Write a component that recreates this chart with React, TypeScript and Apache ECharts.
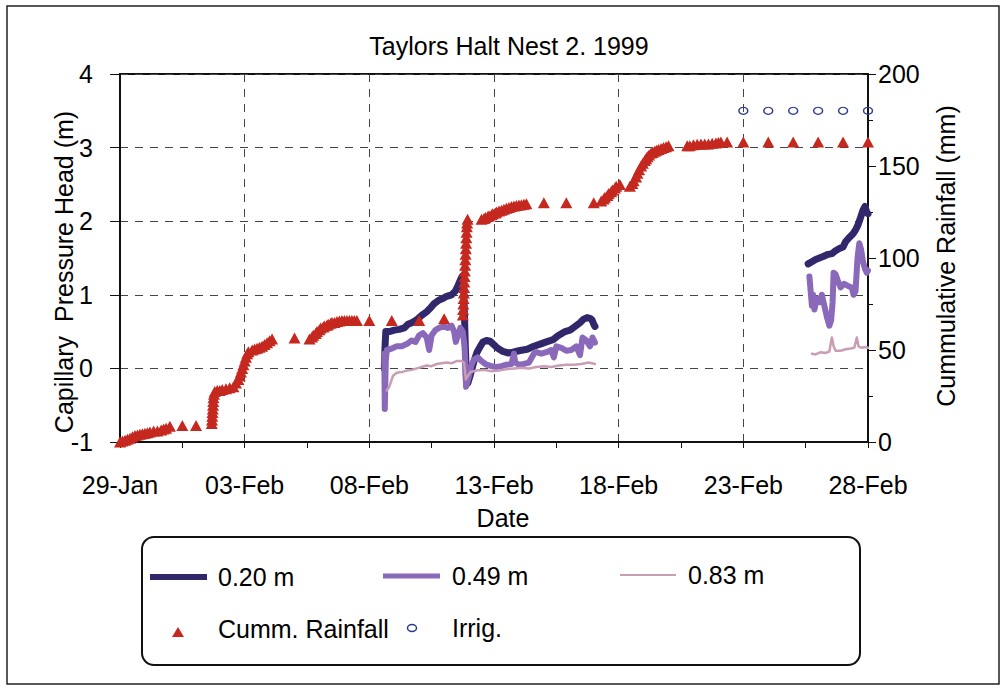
import React, { useEffect, useRef } from "react";
import * as echarts from "echarts";

// ---------- data (x = days since 29-Jan-1999) ----------
const title = "Taylors Halt Nest 2. 1999";
const xTickLabels = ["29-Jan", "03-Feb", "08-Feb", "13-Feb", "18-Feb", "23-Feb", "28-Feb"];

const head020A: number[][] = [
  [10.6, 0.0], [10.63, 0.3], [10.66, 0.5], [10.8, 0.5], [11.0, 0.52], [11.2, 0.53], [11.4, 0.55], [11.55, 0.6],
  [11.7, 0.62], [11.9, 0.66], [12.1, 0.72], [12.3, 0.77], [12.45, 0.82], [12.6, 0.88], [12.8, 0.93], [12.95, 0.95],
  [13.1, 0.98], [13.3, 1.0], [13.45, 1.05], [13.55, 1.12], [13.65, 1.2], [13.72, 1.25], [13.78, 1.15], [13.85, 0.3],
  [13.9, -0.2], [13.95, -0.2], [14.04, -0.1], [14.2, 0.1], [14.32, 0.22], [14.45, 0.3], [14.56, 0.36], [14.7, 0.38],
  [14.84, 0.37], [15.0, 0.32], [15.12, 0.28], [15.36, 0.23], [15.56, 0.21], [15.76, 0.22], [16.0, 0.24], [16.33, 0.26],
  [16.6, 0.3], [16.85, 0.33], [17.1, 0.36], [17.37, 0.39], [17.55, 0.44], [17.65, 0.46], [17.85, 0.5], [18.05, 0.52],
  [18.25, 0.57], [18.45, 0.62], [18.6, 0.67], [18.73, 0.69], [18.85, 0.68], [18.93, 0.66], [19.0, 0.6], [19.05, 0.57],
];
const head020B: number[][] = [
  [27.6, 1.42], [27.75, 1.45], [27.9, 1.48], [28.05, 1.5], [28.2, 1.52], [28.4, 1.55], [28.56, 1.56], [28.7, 1.6],
  [28.85, 1.63], [29.0, 1.65], [29.1, 1.72], [29.25, 1.78], [29.4, 1.83], [29.5, 1.88], [29.6, 1.95], [29.7, 2.05],
  [29.8, 2.15], [29.88, 2.2], [29.95, 2.12], [30.0, 2.1],
];
const head049A: number[][] = [
  [10.6, 0.2], [10.62, -0.55], [10.66, 0.1], [10.7, 0.25], [10.9, 0.27], [11.1, 0.3], [11.3, 0.3], [11.5, 0.33],
  [11.7, 0.38], [11.85, 0.36], [12.0, 0.45], [12.15, 0.48], [12.3, 0.42], [12.4, 0.25], [12.5, 0.45], [12.65, 0.52],
  [12.8, 0.55], [13.0, 0.57], [13.15, 0.55], [13.3, 0.58], [13.4, 0.5], [13.47, 0.36], [13.55, 0.45], [13.65, 0.55],
  [13.75, 0.5], [13.82, 0.3], [13.88, -0.25], [13.92, -0.2], [14.0, -0.1], [14.1, 0.05], [14.2, 0.12], [14.35, 0.15],
  [14.5, 0.1], [14.7, 0.05], [14.9, 0.03], [15.1, 0.02], [15.3, 0.03], [15.5, 0.05], [15.7, 0.06], [15.8, 0.2],
  [15.85, 0.08], [16.0, 0.05], [16.2, 0.06], [16.4, 0.08], [16.6, 0.2], [16.7, 0.22], [16.9, 0.2], [17.1, 0.22],
  [17.3, 0.25], [17.4, 0.15], [17.5, 0.3], [17.7, 0.28], [17.9, 0.24], [18.1, 0.25], [18.3, 0.3], [18.45, 0.18],
  [18.55, 0.42], [18.7, 0.38], [18.85, 0.3], [18.95, 0.42], [19.05, 0.35],
];
const head049B: number[][] = [
  [27.65, 1.25], [27.7, 1.05], [27.75, 0.85], [27.8, 1.0], [27.85, 0.8], [27.95, 0.95], [28.05, 0.9], [28.15, 1.0],
  [28.25, 0.85], [28.35, 0.7], [28.45, 0.58], [28.52, 0.65], [28.58, 0.9], [28.62, 1.3], [28.7, 1.28], [28.78, 1.2],
  [28.9, 1.1], [29.05, 1.15], [29.2, 1.12], [29.35, 1.1], [29.42, 1.0], [29.5, 1.05], [29.58, 1.5], [29.65, 1.7],
  [29.72, 1.62], [29.8, 1.45], [29.88, 1.35], [29.95, 1.3], [30.0, 1.33],
];
const head083A: number[][] = [
  [10.7, -0.3], [10.8, -0.25], [10.95, -0.1], [11.1, -0.06], [11.3, -0.05], [11.5, -0.03], [11.7, -0.02], [11.9, 0.0],
  [12.1, 0.02], [12.3, 0.04], [12.5, 0.03], [12.7, 0.06], [12.9, 0.07], [13.1, 0.08], [13.3, 0.07], [13.5, 0.1],
  [13.7, 0.1], [13.8, 0.08], [13.87, -0.15], [13.92, -0.12], [14.05, -0.05], [14.3, -0.03], [14.6, -0.02], [14.9, -0.04],
  [15.2, -0.03], [15.5, -0.01], [15.8, 0.0], [16.1, 0.01], [16.4, 0.0], [16.7, 0.02], [17.0, 0.03], [17.3, 0.02],
  [17.6, 0.04], [17.9, 0.05], [18.2, 0.05], [18.5, 0.06], [18.8, 0.08], [19.05, 0.06],
];
const head083B: number[][] = [
  [27.75, 0.2], [27.9, 0.19], [28.1, 0.22], [28.3, 0.21], [28.45, 0.23], [28.55, 0.42], [28.62, 0.3], [28.7, 0.24],
  [28.9, 0.24], [29.1, 0.26], [29.3, 0.27], [29.45, 0.28], [29.55, 0.42], [29.62, 0.3], [29.75, 0.28], [29.9, 0.29],
  [30.0, 0.28],
];
const cummRainfall: number[][] = [
  [0.0, 0], [0.1, 0.5], [0.2, 1], [0.3, 1.5], [0.4, 2], [0.5, 2.8], [0.6, 3.5], [0.7, 3.8], [0.8, 4.2], [0.9, 4.5],
  [1.0, 4.8], [1.1, 5], [1.2, 5.5], [1.35, 6], [1.5, 6], [1.65, 6.5], [1.75, 7], [1.85, 7.5], [2.0, 8.5], [2.5, 9], [3.05, 9],
  [3.68, 10], [3.69, 12], [3.7, 14], [3.71, 16], [3.72, 18], [3.73, 20], [3.74, 22], [3.75, 24], [3.77, 26], [3.8, 27.5],
  [3.9, 28], [4.0, 28], [4.1, 28.5], [4.25, 29], [4.4, 29.5], [4.55, 30], [4.65, 32], [4.75, 34], [4.8, 36], [4.85, 38],
  [4.9, 40], [4.95, 42], [5.0, 44], [5.05, 46], [5.1, 48], [5.15, 49], [5.3, 50], [5.4, 50.5], [5.5, 51], [5.6, 51.5],
  [5.7, 52], [5.8, 53], [5.9, 54], [6.0, 55], [6.1, 56],
  [7.0, 56.5],
  [7.6, 56], [7.7, 57], [7.75, 58], [7.85, 59], [7.9, 60], [8.0, 61], [8.05, 62], [8.15, 62.5], [8.2, 63], [8.3, 63.5],
  [8.35, 64], [8.45, 64.5], [8.5, 65], [8.6, 65], [8.7, 65.5], [8.8, 65.8], [8.9, 66], [9.0, 66], [9.1, 66], [9.2, 66],
  [9.3, 66], [9.4, 66], [9.5, 66],
  [10.0, 66], [10.9, 66], [12.0, 66], [13.0, 67],
  [13.75, 69], [13.76, 72], [13.77, 75], [13.78, 78], [13.79, 81], [13.8, 84], [13.81, 87], [13.82, 90], [13.83, 93],
  [13.84, 96], [13.85, 99], [13.86, 102], [13.87, 105], [13.88, 108], [13.89, 111], [13.9, 114], [13.91, 117],
  [13.92, 119], [13.94, 121],
  [14.5, 121], [14.6, 121.5], [14.65, 122], [14.75, 122.5], [14.8, 123], [14.9, 123.5], [14.95, 124], [15.05, 124.5],
  [15.1, 125], [15.2, 125.5], [15.3, 126], [15.4, 126.5], [15.5, 127], [15.6, 127.5], [15.7, 128], [15.8, 128.2],
  [15.9, 128.5], [16.0, 128.8], [16.1, 129], [16.2, 129.2], [16.3, 129.5],
  [17.0, 130], [17.9, 130], [19.0, 130],
  [19.3, 131], [19.4, 132], [19.45, 133], [19.55, 134], [19.6, 135], [19.7, 136], [19.75, 137], [19.85, 138],
  [19.9, 139], [20.05, 140],
  [20.45, 139], [20.55, 140.5], [20.6, 142], [20.7, 144], [20.75, 146], [20.82, 148], [20.9, 150], [20.97, 151.5],
  [21.05, 153], [21.1, 154], [21.15, 155], [21.22, 156], [21.3, 157], [21.37, 157.5], [21.45, 158], [21.52, 158.5],
  [21.6, 159], [21.7, 159.5], [21.8, 160], [21.9, 160.5], [22.0, 161],
  [22.75, 161], [22.85, 161], [23.0, 161.5], [23.15, 161.8], [23.3, 162], [23.45, 162], [23.6, 162], [23.75, 162.3],
  [23.9, 162.5], [24.0, 162.8], [24.1, 163], [24.35, 163],
  [25, 163], [26, 163], [27, 163], [28, 163], [29, 163], [30, 163],
];
const irrig: number[][] = [
  [25, 180], [26, 180], [27, 180], [28, 180], [29, 180], [30, 180],
];

const seriesNames = ["0.20 m", "0.49 m", "0.83 m", "Cumm. Rainfall", "Irrig."];

// ---------- style ----------
const FONT = "'Liberation Sans', Arial, Helvetica, sans-serif";
const TXT = "#000";
const C020 = "#31286c";
const C049 = "#8a69bb";
const C083 = "#c99db4";
const CRAIN = "#c5281f";
const CIRR = "#2c3a8c";

export default function App() {
  const ref = useRef<HTMLDivElement>(null);
  useEffect(() => {
    if (!ref.current) return;
    const chart = echarts.init(ref.current, null, { renderer: "svg" });
    const lineSeries = (name: string, data: number[][], color: string, width: number) => ({
      name,
      type: "line",
      data,
      yAxisIndex: 0,
      showSymbol: false,
      symbol: "none",
      lineStyle: { color, width, join: "round", cap: "round" },
      itemStyle: { color },
      z: 3,
    });
    const txt = (text: string, x: number, y: number, extra: any = {}) => ({
      type: "text",
      x,
      y,
      z: 20,
      style: {
        text,
        fontSize: 25,
        fontFamily: FONT,
        fill: TXT,
        align: "left",
        verticalAlign: "middle",
        ...extra,
      },
    });
    chart.setOption({
      animation: false,
      backgroundColor: "#fff",
      title: {
        text: title,
        left: 504,
        textAlign: "center",
        top: 28,
        textStyle: { fontSize: 25, fontWeight: "normal", fontFamily: FONT, color: TXT },
      },
      grid: {
        left: 120,
        right: 140,
        top: 74,
        bottom: 246,
        show: true,
        borderColor: "#111",
        borderWidth: 2,
        backgroundColor: "transparent",
      },
      xAxis: {
        type: "value",
        min: 0,
        max: 30,
        interval: 5,
        axisLine: { show: true, onZero: false, lineStyle: { color: "#111", width: 2 } },
        axisTick: { show: true, length: 6, lineStyle: { color: "#111" } },
        minorTick: { show: true, splitNumber: 2, length: 6, lineStyle: { color: "#111" } },
        splitLine: { show: true, lineStyle: { color: "#444", type: [8, 7], width: 1 } },
        axisLabel: {
          formatter: (v: number) => xTickLabels[Math.round(v / 5)] ?? "",
          fontSize: 25,
          color: TXT,
          fontFamily: FONT,
          margin: 30,
          showMinLabel: true,
          showMaxLabel: true,
        },
      },
      yAxis: [
        {
          type: "value",
          min: -1,
          max: 4,
          interval: 1,
          position: "left",
          axisLine: { show: true, lineStyle: { color: "#111", width: 2 } },
          axisTick: { show: true, length: 10, lineStyle: { color: "#111" } },
          splitLine: { show: true, lineStyle: { color: "#444", type: [8, 7], width: 1 } },
          axisLabel: { fontSize: 25, color: TXT, fontFamily: FONT, margin: 27 },
        },
        {
          type: "value",
          min: 0,
          max: 200,
          interval: 50,
          position: "right",
          axisLine: { show: true, lineStyle: { color: "#111", width: 2 } },
          axisTick: { show: true, length: 8, lineStyle: { color: "#111" } },
          minorTick: { show: true, splitNumber: 2, length: 5, lineStyle: { color: "#111" } },
          splitLine: { show: false },
          axisLabel: { fontSize: 25, color: TXT, fontFamily: FONT, margin: 10 },
        },
      ],
      series: [
        lineSeries(seriesNames[0], head020A, C020, 7),
        lineSeries(seriesNames[0], head020B, C020, 7),
        lineSeries(seriesNames[1], head049A, C049, 6),
        lineSeries(seriesNames[1], head049B, C049, 6),
        lineSeries(seriesNames[2], head083A, C083, 2.5),
        lineSeries(seriesNames[2], head083B, C083, 2.5),
        {
          name: seriesNames[3],
          type: "scatter",
          yAxisIndex: 1,
          data: cummRainfall,
          symbol: "triangle",
          symbolSize: [12, 11],
          itemStyle: { color: CRAIN, opacity: 1 },
          z: 4,
        },
        {
          name: seriesNames[4],
          type: "scatter",
          yAxisIndex: 1,
          data: irrig,
          symbol: "circle",
          symbolSize: [9, 7],
          itemStyle: { color: "rgba(255,255,255,0)", borderColor: CIRR, borderWidth: 1.3, opacity: 1 },
          z: 4,
        },
      ],
      graphic: [
        {
          type: "rect",
          z: 0,
          silent: true,
          shape: { x: 7, y: 6, width: 992, height: 678 },
          style: { fill: "none", stroke: "#222", lineWidth: 1.5 },
        },
        { ...txt("Capillary  Pressure Head (m)", 64, 272, { align: "center" }), rotation: Math.PI / 2 },
        { ...txt("Cummulative Rainfall (mm)", 946, 256, { align: "center" }), rotation: Math.PI / 2 },
        txt("Date", 503, 518, { align: "center" }),
        {
          type: "rect",
          z: 10,
          shape: { x: 142, y: 537, width: 718, height: 128, r: 12 },
          style: { fill: "#fff", stroke: "#111", lineWidth: 2 },
        },
        { type: "line", z: 20, shape: { x1: 150, y1: 577, x2: 207, y2: 577 }, style: { stroke: C020, lineWidth: 6 } },
        txt(seriesNames[0], 218, 577),
        { type: "line", z: 20, shape: { x1: 383, y1: 576, x2: 440, y2: 576 }, style: { stroke: C049, lineWidth: 5 } },
        txt(seriesNames[1], 452, 576),
        { type: "line", z: 20, shape: { x1: 620, y1: 575, x2: 676, y2: 575 }, style: { stroke: C083, lineWidth: 2 } },
        txt(seriesNames[2], 688, 575),
        {
          type: "polygon",
          z: 20,
          shape: { points: [[172, 637], [184, 637], [178, 627]] },
          style: { fill: CRAIN },
        },
        txt(seriesNames[3], 218, 629),
        {
          type: "ellipse",
          z: 20,
          shape: { cx: 412, cy: 628, rx: 4.5, ry: 3.5 },
          style: { fill: "none", stroke: CIRR, lineWidth: 1.5 },
        },
        txt(seriesNames[4], 452, 628),
      ],
    });
    return () => chart.dispose();
  }, []);
  return (
    <div
      ref={ref}
      style={{ position: "absolute", left: 0, top: 0, width: 1008, height: 688, background: "#fff" }}
    />
  );
}
